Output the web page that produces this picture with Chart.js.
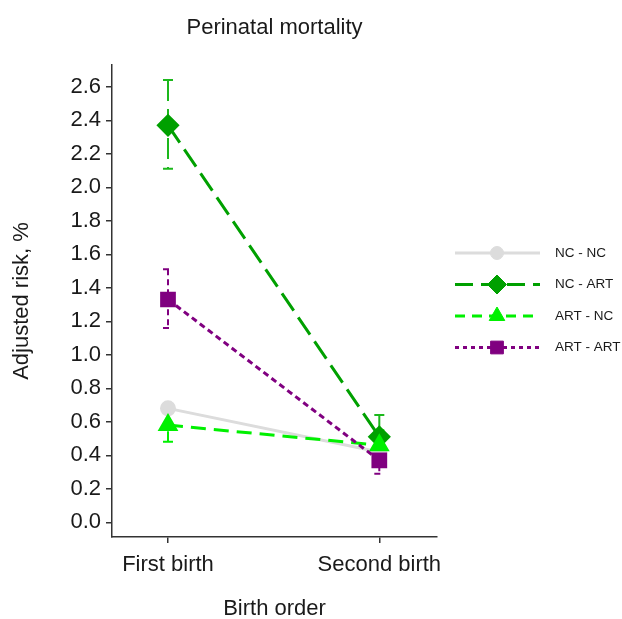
<!DOCTYPE html>
<html>
<head>
<meta charset="utf-8">
<script src="https://cdn.jsdelivr.net/npm/chart.js@4.4.1/dist/chart.umd.min.js"></script>
<style>
  html, body { margin: 0; padding: 0; background: #fff; }
  #wrap { width: 622px; height: 619px; }
</style>
</head>
<body>
<div id="wrap"><canvas id="riskChart" width="622" height="619"></canvas></div>
<script>
// x positions and labels
const birthOrder = ['First birth', 'Second birth'];
const xVals = [1, 2];
const yTicks = [0, 0.2, 0.4, 0.6, 0.8, 1.0, 1.2, 1.4, 1.6, 1.8, 2.0, 2.2, 2.4, 2.6];

// adjusted risk, %
const ncNc = [0.68, 0.42];
const ncArt = [2.37, 0.51];
const artNc = [0.58, 0.46];
const artArt = [1.33, 0.37];

// confidence intervals
const ncArtLo = [2.11, 0.40];
const ncArtHi = [2.64, 0.64];
const artNcLo = [0.48, 0.37];
const artNcHi = [0.68, 0.55];
const artArtLo = [1.16, 0.29];
const artArtHi = [1.51, 0.46];

const FONT = '"Liberation Sans", Arial, sans-serif';
const TXT = '#1a1a1a';

const pts = vals => vals.map((v, i) => ({ x: xVals[i], y: v }));

const errorBars = {
  id: 'errorBars',
  beforeDatasetsDraw(chart) {
    const { ctx, scales: { x, y } } = chart;
    chart.data.datasets.forEach(ds => {
      if (!ds.errLo) return;
      ds.errLo.forEach((lo, i) => {
        const px = x.getPixelForValue(xVals[i]);
        const pLo = y.getPixelForValue(lo);
        const pHi = y.getPixelForValue(ds.errHi[i]);
        ctx.save();
        ctx.strokeStyle = ds.errColor || ds.borderColor;
        ctx.lineWidth = 2;
        ctx.setLineDash(ds.borderDash || []);
        ctx.beginPath();
        ctx.moveTo(px, pHi); ctx.lineTo(px, pLo);
        ctx.moveTo(px - 5, pHi); ctx.lineTo(px + 5, pHi);
        ctx.moveTo(px - 5, pLo); ctx.lineTo(px + 5, pLo);
        ctx.stroke();
        ctx.restore();
      });
    });
  }
};

const sideLegend = {
  id: 'sideLegend',
  afterDraw(chart) {
    const ctx = chart.ctx;
    chart.data.datasets.forEach((ds, i) => {
      const yy = 253 + i * 31.5;
      ctx.save();
      ctx.strokeStyle = ds.borderColor;
      ctx.lineWidth = ds.borderWidth;
      ctx.setLineDash(ds.legendDash || ds.borderDash || []);
      ctx.beginPath();
      ctx.moveTo(455, yy); ctx.lineTo(540, yy);
      ctx.stroke();
      ctx.setLineDash([]);
      ctx.fillStyle = ds.pointBackgroundColor;
      ctx.strokeStyle = ds.pointBackgroundColor;
      ctx.lineWidth = 1;
      Chart.helpers.drawPoint(ctx, { pointStyle: ds.pointStyle, radius: ds.pointRadius, rotation: 0, borderWidth: 1 }, 497, yy);
      ctx.fillStyle = TXT;
      ctx.font = '13.5px ' + FONT;
      ctx.textBaseline = 'middle';
      ctx.fillText(ds.label, 555, yy);
      ctx.restore();
    });
  }
};

new Chart('riskChart', {
  type: 'line',
  data: {
    datasets: [
      {
        label: 'NC - NC',
        data: pts(ncNc),
        borderColor: '#dcdcdc',
        pointBackgroundColor: '#dcdcdc',
        pointBorderColor: '#dcdcdc',
        borderWidth: 3,
        pointStyle: 'circle',
        pointRadius: 6.5,
        order: 3
      },
      {
        label: 'NC - ART',
        data: pts(ncArt),
        errLo: ncArtLo, errHi: ncArtHi,
        errColor: '#1cb81c',
        borderColor: '#00a000',
        pointBackgroundColor: '#00a000',
        pointBorderColor: '#00a000',
        borderWidth: 3,
        borderDash: [21, 8],
        legendDash: [18, 8],
        pointStyle: 'rectRot',
        pointRadius: 9.5,
        order: 2
      },
      {
        label: 'ART - NC',
        data: pts(artNc),
        errLo: artNcLo, errHi: artNcHi,
        borderColor: '#00f000',
        pointBackgroundColor: '#00f000',
        pointBorderColor: '#00f000',
        borderWidth: 3,
        borderDash: [15, 8],
        legendDash: [10, 7],
        pointStyle: 'triangle',
        pointRadius: 9,
        order: 1
      },
      {
        label: 'ART - ART',
        data: pts(artArt),
        errLo: artArtLo, errHi: artArtHi,
        borderColor: '#800080',
        pointBackgroundColor: '#800080',
        pointBorderColor: '#800080',
        borderWidth: 3,
        borderDash: [6, 4],
        legendDash: [4, 4],
        pointStyle: 'rect',
        pointRadius: 9,
        order: 0
      }
    ]
  },
  options: {
    responsive: false,
    animation: false,
    layout: { padding: { left: 0, right: 185, top: 0, bottom: 0 } },
    plugins: {
      legend: { display: false },
      tooltip: { enabled: false },
      title: {
        display: true,
        text: 'Perinatal mortality',
        fullSize: false,
        color: TXT,
        font: { family: FONT, size: 22, weight: 'normal' },
        padding: { top: 15, bottom: 23.6 }
      }
    },
    scales: {
      x: {
        type: 'linear',
        min: 0.735,
        max: 2.273,
        afterBuildTicks: axis => { axis.ticks = xVals.map(v => ({ value: v })); },
        afterFit: s => { s.height = 82; s.paddingLeft = 0; s.paddingRight = 0; },
        ticks: {
          callback: (v, i) => birthOrder[i],
          color: TXT,
          font: { family: FONT, size: 22 },
          padding: 9,
          maxRotation: 0
        },
        grid: { drawOnChartArea: false, drawTicks: true, tickLength: 6, color: '#333', lineWidth: 1.5 },
        border: { display: true, color: '#333', width: 1.5 },
        title: {
          display: true,
          text: 'Birth order',
          color: TXT,
          font: { family: FONT, size: 22 },
          padding: { top: 0, bottom: -3 }
        }
      },
      y: {
        min: -0.088,
        max: 2.73,
        afterBuildTicks: axis => { axis.ticks = yTicks.map(v => ({ value: v })); },
        afterFit: s => { s.width = 112; },
        ticks: {
          callback: v => v.toFixed(1),
          color: TXT,
          font: { family: FONT, size: 22 },
          padding: 5
        },
        grid: { drawOnChartArea: false, drawTicks: true, tickLength: 6, color: '#333', lineWidth: 1.5 },
        border: { display: true, color: '#333', width: 1.5 },
        title: {
          display: true,
          text: 'Adjusted risk, %',
          color: TXT,
          font: { family: FONT, size: 22 },
          padding: { top: 9, bottom: 0 }
        }
      }
    }
  },
  plugins: [errorBars, sideLegend]
});
</script>
</body>
</html>
